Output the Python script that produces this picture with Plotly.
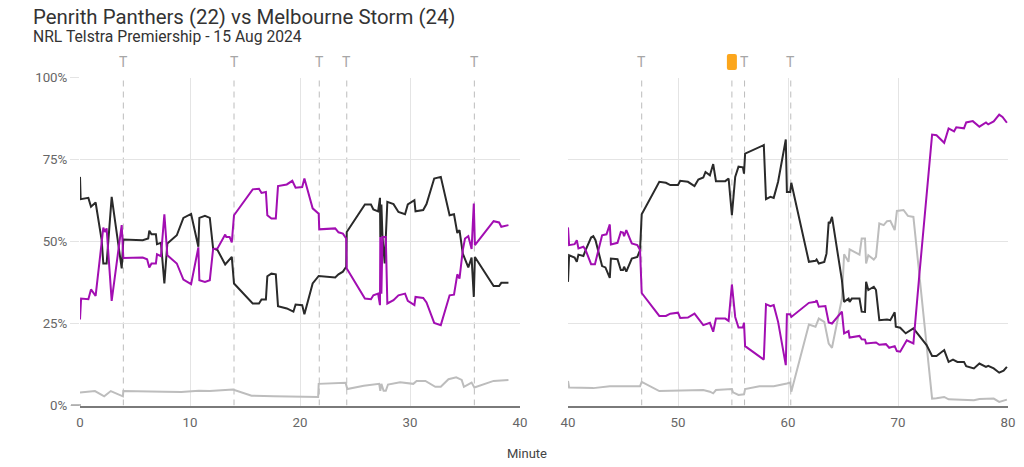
import plotly.graph_objects as go

# Minute and win probability (%) per team, per half
black_min_1 = [0, .06, .76, 1.0, 1.42, 1.97, 2.12, 2.42, 2.88, 3.79, 3.94, 5.7, 6.2, 6.3, 6.5, 6.9, 7.0, 7.36, 7.67, 7.94,
               8.8, 9.4, 10.1, 10.76, 10.85, 11.36, 11.8, 12.1, 12.5, 13.2, 13.8, 14.0, 15.7, 16.27, 16.5, 16.9, 17.03,
               17.4, 17.8, 18.0, 18.8, 19.4, 19.6, 20.2, 20.4, 21.15, 21.7, 23.2, 23.5, 23.9, 24.2, 24.25, 25.9, 26.45,
               26.67, 27.1, 27.27, 27.3, 27.4, 27.5, 27.7, 27.94, 28.5, 28.95, 29.55, 29.8, 30.4, 30.5, 31.2, 31.5, 32.2,
               32.8, 33.6, 34, 34.3, 34.5, 34.8, 35.3, 35.6, 35.8, 35.9, 37.6, 38.1, 38.3, 38.95]
black_pct_1 = [69.7, 62.9, 63.3, 60.6, 61.9, 50.4, 43.3, 43.3, 63.6, 41.8, 50.6, 50.4, 50.9, 53.3, 52.2, 52.2, 49.2, 49.6, 37.2, 49.4,
               51.9, 57.2, 58.4, 48.4, 57.2, 57.8, 57.2, 47.9, 47.4, 43.0, 45.3, 37.2, 31.1, 31.1, 32.3, 32.3, 39.4,
               40.2, 40.0, 30.3, 29.6, 28.6, 30.8, 30.6, 27.8, 37.2, 39.5, 39.0, 40, 40.8, 42.3, 52.9, 61.3, 61.3,
               59.8, 59.2, 63.3, 51.4, 61.3, 51.4, 43.3, 62.1, 61.4, 59, 58.3, 61.3, 62.6, 59.2, 59.6, 61.4, 69.2,
               69.7, 58, 58.3, 52.6, 53.5, 46.3, 42.1, 45.1, 33.1, 45.3, 36.4, 36.4, 37.4, 37.4]

purple_min_1 = [0, .1, .76, 1, 1.42, 1.97, 2.12, 2.27, 2.42, 2.88, 3.79, 3.94, 5.7, 6.1, 6.3, 6.5, 6.9, 7, 7.36, 7.67, 7.94,
                8.8, 9.4, 10.1, 10.76, 10.85, 11.36, 11.8, 12.1, 12.5, 13.2, 13.3, 13.6, 13.8, 14, 15.7, 16.27, 16.5, 16.9,
                17.03, 17.4, 17.8, 18, 18.8, 19.3, 19.6, 20.2, 20.4, 21.15, 21.7, 21.75, 23.2, 23.5, 23.9, 24.2, 24.25,
                25.9, 26.45, 26.67, 27.1, 27.27, 27.3, 27.4, 27.5, 27.8, 27.94, 28.5, 28.95, 29.55, 29.8, 30.4, 30.5,
                31.2, 31.5, 32.2, 32.8, 33.6, 34, 34.3, 34.5, 34.8, 35, 35.3, 35.6, 35.8, 35.9, 37.6, 38.1, 38.3, 38.95]
purple_pct_1 = [26.2, 32.6, 32.4, 35.4, 33.4, 48.4, 54.2, 52.9, 54, 31.9, 55, 45, 45.1, 44.6, 42.1, 43.3, 43.3, 46.1, 45.5, 58.3, 45.8,
                43.3, 38.4, 37, 48.2, 38.2, 37.7, 38.2, 47.7, 47.9, 52.1, 51.4, 51.4, 49.7, 58, 65.9, 66.1, 64.8, 65.1,
                58, 57, 57, 66.9, 67.4, 68.5, 66.4, 66.6, 69.2, 60.1, 58.5, 53.7, 54, 52.8, 52.4, 50.9, 41.8,
                32.6, 32.4, 33.6, 34.1, 30.6, 51.4, 34.1, 51.4, 51.4, 31.1, 32.1, 33.6, 34.1, 31.9, 30.6, 33.1,
                32.8, 31.4, 25.2, 24.5, 33.6, 33.8, 40, 38.7, 47.4, 50.9, 51.6, 47.7, 61.6, 48.9, 56.2, 55.8, 54.5, 55]

grey_min_1 = [0, 1.36, 2.2, 2.8, 3.9, 3.94, 7.7, 9.2, 10.8, 11.8, 13.9, 15.6, 17.6, 21.65, 21.7, 24.15, 24.3, 25.8, 27.2, 27.3,
              27.4, 27.6, 27.8, 28, 29.1, 30.3, 30.6, 31.4, 32.3, 32.8, 33.5, 34.2, 34.7, 34.9, 35.6, 35.85, 37.6, 38.95]
grey_pct_1 = [4, 4.4, 2.8, 4.4, 2.8, 4.4, 4.2, 4.1, 4.5, 4.4, 4.9, 3, 2.8, 2.6, 6.6, 6.9, 5, 6, 6.6, 4.5,
              6.6, 4.5, 4.5, 6.4, 7.1, 6.6, 7.5, 7.5, 5.7, 5.7, 8, 8.6, 7.8, 5.7, 7, 5.5, 7.5, 7.8]

black_min_2 = [40, 40.1, 40.6, 40.8, 40.95, 41.4, 41.6, 42.1, 42.3, 42.5, 43.1, 43.4, 43.8, 43.9, 44.5, 44.8, 45, 45.1, 45.3,
               45.8, 46.3, 46.55, 46.7, 48.3, 48.9, 49.3, 50, 50.2, 50.9, 51.5, 51.85, 52.3, 52.5, 52.9, 53.2, 53.45, 54.3,
               54.6, 54.9, 55.2, 55.5, 55.9, 56, 56.1, 57.8, 58, 58.4, 58.7, 59.1, 59.8, 59.9, 60.2, 60.3, 61.9, 62.5,
               62.6, 62.8, 63.3, 63.5, 63.7, 63.8, 64, 64.9, 65.1, 65.5, 65.6, 65.8, 66.5, 66.7, 67, 67.1, 67.3, 67.8, 68,
               68.3, 69, 69.3, 69.65, 69.7, 69.8, 70.2, 70.7, 71.4, 72.6, 73.1, 73.5, 74.2, 74.6, 75, 75.4, 76, 76.2, 76.9,
               77.4, 78, 78.2, 78.7, 79.2, 79.6, 79.9]
black_pct_2 = [37.7, 45.8, 45.1, 43.8, 46, 45.6, 47.4, 51.2, 51.6, 50.4, 42.5, 42.1, 38.9, 44.8, 44.6, 41.3, 41.3, 42.3, 40.8,
               44.8, 45.3, 47.4, 58.3, 68.2, 67.9, 67.2, 67.2, 68.5, 68.2, 66.9, 68.9, 69.5, 71.2, 70.2, 73.6, 68.4, 68.4,
               69.2, 58, 69.7, 72.8, 72.6, 70.7, 76.8, 79.4, 62.9, 63.6, 63.3, 68.2, 81.1, 65.1, 65.1, 67.9, 43.8, 44.1,
               44.5, 43.3, 43.8, 46.3, 56, 55.5, 57.5, 38.2, 31.6, 32.6, 31.6, 32.6, 32.6, 28.6, 28.5, 37.7, 35.2, 36.2, 35.2,
               26, 26.2, 26, 28.3, 28.4, 24, 23.7, 22, 23.5, 18.4, 15.1, 15.1, 16.9, 13.3, 14, 13.3, 13.3, 12, 11.3,
               12.8, 11.8, 12.1, 11.3, 10, 10.6, 11.8]

purple_min_2 = [40, 40.1, 40.6, 40.8, 40.95, 41.4, 41.6, 42.1, 42.45, 42.8, 43.1, 43.5, 43.8, 43.9, 44.5, 44.8, 45, 45.1, 45.3,
                45.8, 46.3, 46.55, 46.7, 48.3, 48.9, 49.3, 50, 50.2, 50.9, 51.5, 51.85, 52.3, 52.9, 53.2, 53.45, 54.3, 54.6,
                54.9, 55.2, 55.5, 55.9, 56, 56.1, 57.8, 58, 58.4, 58.7, 59.1, 59.8, 59.9, 60.2, 60.3, 61.9, 62.5, 62.6, 62.8,
                63.4, 63.7, 64, 64.9, 65.1, 65.5, 65.6, 66.5, 66.7, 67, 67.1, 68, 68.3, 68.9, 69.2, 69.7, 69.9, 70.2, 70.8,
                71.4, 71.95, 72.6, 73.1, 73.5, 74.2, 74.6, 75.1, 75.3, 76, 76.2, 76.8, 77.4, 78, 78.2, 78.7, 79.2, 79.5, 79.9]
purple_pct_2 = [54.3, 48.9, 49.2, 50.4, 47.9, 48.4, 47.4, 43.1, 43.1, 47.4, 51.9, 52.2, 55.2, 49.1, 49.6, 52.9, 52.7, 51.6, 53.5,
                49.4, 48.9, 47.4, 34.3, 27.3, 27.3, 28, 28.3, 26.7, 26.8, 28, 26.5, 24.5, 25.2, 22.5, 26.5, 26.5, 25.8,
                36.9, 27, 23.8, 23.8, 25.2, 18.1, 14, 30.9, 30.3, 30.6, 25.5, 12.3, 27.8, 27.8, 27, 31.3, 31.6, 32.1, 30.1,
                30.3, 25.3, 25, 28.6, 22, 22.7, 20.7, 21.2, 20.2, 20.1, 18.9, 19.2, 18.5, 18.7, 17.6, 18.1, 16.6, 16.4, 19.9,
                18.9, 40.2, 63.6, 82.6, 82.4, 80.1, 84.5, 83.6, 84.8, 84.5, 86.3, 86.7, 85, 86.3, 85.7, 86.6, 88.7, 88, 86.2]

grey_min_2 = [40, 40.1, 42.3, 43.8, 46.55, 46.7, 48.3, 52.3, 52.9, 53.2, 53.45, 54.9, 55, 55.5, 56, 56.1, 57.4, 58.7, 59.9, 60.2,
              60.3, 61.9, 62.5, 62.8, 63.3, 63.7, 64, 64.9, 65.1, 65.5, 65.6, 66.5, 66.7, 67, 67.1, 67.3, 67.8, 68, 68.3, 68.7,
              69, 69.3, 69.7, 69.9, 70.5, 70.9, 71.4, 71.95, 72.6, 73.1, 73.5, 74.2, 74.6, 76, 76.9, 77.4, 78.7, 79.2, 79.9]
grey_pct_2 = [7.5, 5.5, 5.3, 5.9, 5.9, 7.2, 4.4, 4.7, 4.2, 3.7, 4.7, 5, 4, 3.2, 3.4, 5, 5.9, 5.9, 6.7, 7,
              4.2, 24.7, 24, 26.5, 25.5, 18.9, 17.6, 32.6, 46.1, 43.8, 47.6, 46, 50.9, 50.9, 43.3, 45.8, 44.5, 45.3, 55.5, 55,
              56.2, 56.3, 53.5, 59.3, 59.6, 57.8, 57.5, 39.2, 18.9, 2.1, 2.2, 2.6, 1.9, 1.8, 1.6, 2, 2.1, 1.1, 1.8]

try_minutes_1 = [3.94, 14.0, 21.75, 24.25, 35.85]
try_minutes_2 = [46.7, 56.05, 60.25]
penalty_minutes_2 = [54.9]

title_text = "Penrith Panthers (22) vs Melbourne Storm (24)"
subtitle_text = "NRL Telstra Premiership - 15 Aug 2024"

PURPLE = "#a20eb2"
BLACK = "#2a2a2a"
GREY = "#bdbdbd"
GRID = "#e4e4e4"
FONT = "Roboto"

fig = go.Figure()

for xname, series in [
    ("x", [(grey_min_1, grey_pct_1, GREY), (black_min_1, black_pct_1, BLACK), (purple_min_1, purple_pct_1, PURPLE)]),
    ("x2", [(grey_min_2, grey_pct_2, GREY), (black_min_2, black_pct_2, BLACK), (purple_min_2, purple_pct_2, PURPLE)]),
]:
    for xs, ys, colour in series:
        fig.add_trace(go.Scatter(x=xs, y=ys, xaxis=xname, yaxis="y" if xname == "x" else "y2", mode="lines",
                                 line=dict(color=colour, width=2), showlegend=False, hoverinfo="skip"))

shapes = []
annotations = []

# Dashed try / penalty markers
for xref, yref, minutes in [("x", "y", try_minutes_1), ("x2", "y2", try_minutes_2 + penalty_minutes_2)]:
    for m in minutes:
        shapes.append(dict(type="line", xref=xref, yref=yref, x0=m, x1=m, y0=0, y1=100, layer="below",
                           line=dict(color="#bcbcbc", width=1, dash="6px,5px")))
for xref, minutes in [("x", try_minutes_1), ("x2", try_minutes_2)]:
    for m in minutes:
        annotations.append(dict(text="T", xref=xref, yref="paper", x=m, y=1 - 62 / 467, showarrow=False,
                                yanchor="middle", font=dict(family=FONT, size=14, color="#a6a6a6")))

# Orange penalty card above the second half
for m in penalty_minutes_2:
    shapes.append(dict(type="path", xref="x2", yref="paper", xsizemode="pixel", ysizemode="pixel",
                       xanchor=m, yanchor=1 - 62 / 467, layer="above", line=dict(width=0), fillcolor="#fca61c",
                       path="M -3 -8 L 3 -8 Q 5 -8 5 -6 L 5 6 Q 5 8 3 8 L -3 8 Q -5 8 -5 6 L -5 -6 Q -5 -8 -3 -8 Z"))

# Baseline runs out over the tick mark on the left of the first panel
shapes.append(dict(type="line", xref="paper", yref="y", x0=71 / 1024, x1=81 / 1024, y0=0, y1=0,
                   line=dict(color="#7a7a7a", width=2)))

annotations.append(dict(text=title_text, xref="paper", yref="paper", x=31 / 1024, y=1 - 17 / 467, showarrow=False,
                        xanchor="left", yanchor="middle", font=dict(family=FONT, size=20.4, color="#333333")))
annotations.append(dict(text=subtitle_text, xref="paper", yref="paper", x=31 / 1024, y=1 - 36 / 467, showarrow=False,
                        xanchor="left", yanchor="middle", font=dict(family=FONT, size=15.7, color="#333333")))
annotations.append(dict(text="Minute", xref="paper", yref="paper", x=527 / 1024, y=1 - 453 / 467, showarrow=False,
                        xanchor="center", yanchor="middle", font=dict(family=FONT, size=13, color="#444444")))

xaxis_style = dict(range=[0, 40], dtick=10, automargin=False, showgrid=True, gridcolor=GRID, gridwidth=1, zeroline=False,
                   showline=True, linecolor="#7a7a7a", linewidth=2, ticks="", ticklabelstandoff=4,
                   tickfont=dict(family=FONT, size=13.3, color="#666666"))
yaxis_style = dict(range=[0, 100], tickvals=[0, 25, 50, 75, 100], automargin=False, showgrid=True, gridcolor=GRID,
                   gridwidth=1, zeroline=False)

fig.update_layout(
    width=1024, height=467, autosize=False,
    margin=dict(l=0, r=0, t=0, b=0),
    paper_bgcolor="white", plot_bgcolor="white",
    shapes=shapes, annotations=annotations,
    xaxis=dict(domain=[80 / 1024, 520 / 1024], anchor="y", **xaxis_style),
    xaxis2=dict(domain=[568 / 1024, 1008 / 1024], anchor="y2", **{**xaxis_style, "range": [40, 80]}),
    yaxis=dict(domain=[1 - 405.5 / 467, 1 - 77.5 / 467], anchor="x", ticktext=["0%", "25%", "50%", "75%", "100%"],
               ticks="outside", ticklen=9, tickcolor=GRID, tickfont=dict(family=FONT, size=13.3, color="#666666"), **yaxis_style),
    yaxis2=dict(domain=[1 - 405.5 / 467, 1 - 77.5 / 467], anchor="x2", showticklabels=False, ticks="", **yaxis_style),
)

# page margin would push the 1024 wide figure out of the window
fig.write_html("out.html", config={"displayModeBar": False}, post_script="document.body.style.margin = '0';")
